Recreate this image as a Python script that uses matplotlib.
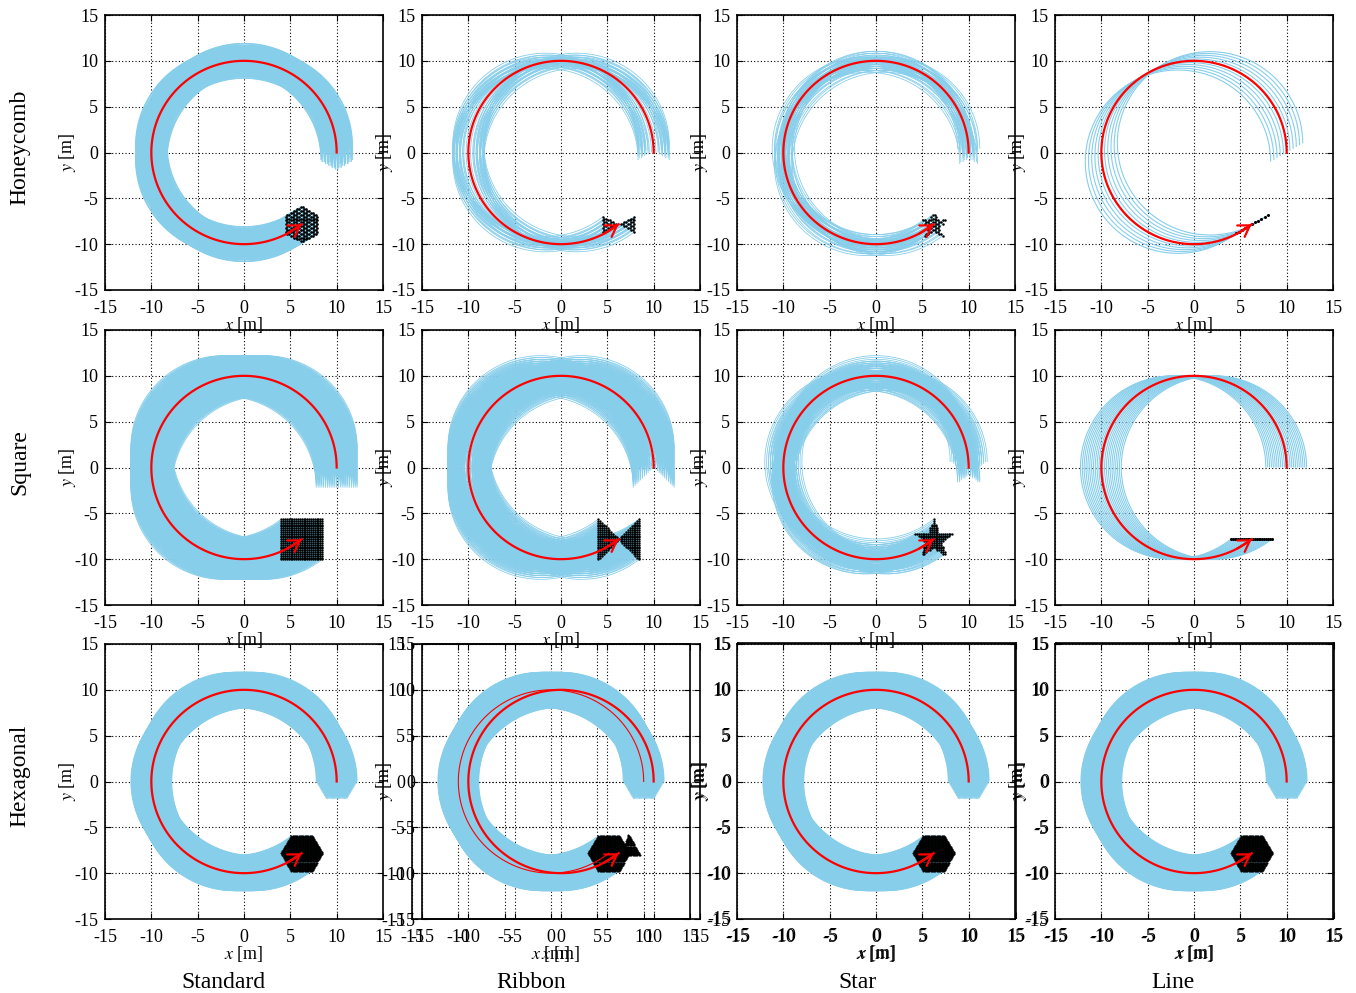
"""
Formation sweeps along a circular leader path: 3 lattice types x 4 formation shapes.
"""

import numpy as np
import matplotlib.pyplot as plt
from matplotlib.collections import LineCollection
from matplotlib.path import Path
from matplotlib.transforms import ScaledTranslation

plt.rcParams['font.family'] = ['Liberation Serif', 'DejaVu Serif']
plt.rcParams['mathtext.fontset'] = 'stix'
plt.rcParams['axes.unicode_minus'] = False

row_names = ["Honeycomb", "Square", "Hexagonal"]
col_names = ["Standard", "Ribbon", "Star", "Line"]
ticks = [-15, -10, -5, 0, 5, 10, 15]

# leader path (circle, counter clockwise)
path_radius = 10.0
path_start_deg = 0.0
path_end_deg = 308.5

# lattice used in each row and its spacing [m]
lattice_kind = ["honeycomb", "square", "triangular"]
lattice_step = [0.24, 0.2, 0.13]

# formation sizes [m]
hex_pointy_radius = 2.05
square_half = 2.3
hex_flat_radius = 2.25
ribbon_half_w = [1.8, 2.35]
ribbon_half_h = [1.15, 2.45]
star_outer = [1.8, 2.3]
star_inner = [0.72, 0.95]
line_angle_deg = [30.0, 0.0]
line_half_len = [2.0, 2.25]
line_step = [0.4, 0.2]
extra_triangle = [(7.25, -5.8), (8.6, -8.0), (6.5, -8.0)]

sky = "#87CEEB"
arrow_style = '->,head_length=0.55,head_width=0.35'


def lattice(kind, step, ext=3.0):
    n = int(ext / step) + 2
    if kind == "square":
        g = np.arange(-n, n + 1) * step
        X, Y = np.meshgrid(g, g)
        return np.column_stack([X.ravel(), Y.ravel()])
    i, j = np.meshgrid(np.arange(-2 * n, 2 * n + 1), np.arange(-2 * n, 2 * n + 1))
    i = i.ravel()
    j = j.ravel()
    if kind == "honeycomb":
        keep = (i - j) % 3 != 0
        i = i[keep]
        j = j[keep]
    x = step * (i + j / 2.0)
    y = step * j * np.sqrt(3) / 2.0
    return np.column_stack([x, y])


def polygon(r, start_deg, k):
    a = np.radians(start_deg + 360.0 / k * np.arange(k))
    return np.column_stack([r * np.cos(a), r * np.sin(a)])


def star_poly(ro, ri):
    a = np.radians(90 + 36 * np.arange(10))
    r = np.where(np.arange(10) % 2 == 0, ro, ri)
    return np.column_stack([r * np.cos(a), r * np.sin(a)])


def inside(pts, verts):
    return pts[Path(verts).contains_points(pts, radius=1e-6)]


def formation(row, col):
    pts = lattice(lattice_kind[row], lattice_step[row])
    if row == 2:
        return inside(pts, polygon(hex_flat_radius, 0, 6))
    if col == 0:
        if row == 0:
            return inside(pts, polygon(hex_pointy_radius, 90, 6))
        s = square_half
        return inside(pts, np.array([[-s, -s], [s, -s], [s, s], [-s, s]]))
    if col == 1:
        w, h = ribbon_half_w[row], ribbon_half_h[row]
        ax_ = np.abs(pts[:, 0])
        m = (ax_ <= w + 1e-6) & (np.abs(pts[:, 1]) <= h * ax_ / w + 1e-6)
        return pts[m]
    if col == 2:
        return inside(pts, star_poly(star_outer[row], star_inner[row]))
    t = np.arange(-line_half_len[row], line_half_len[row] + 1e-6, line_step[row])
    a = np.radians(line_angle_deg[row])
    return np.column_stack([t * np.cos(a), t * np.sin(a)])


def style(ax, grid=True):
    ax.set_xlim(-15, 15)
    ax.set_ylim(-15, 15)
    ax.set_xticks(ticks)
    ax.set_yticks(ticks)
    ax.tick_params(direction='in', top=True, right=True, labelsize=13,
                   length=4, width=0.8)
    ax.tick_params(axis='x', pad=7)
    ax.tick_params(axis='y', pad=5)
    for sp in ax.spines.values():
        sp.set_linewidth(1.2)
    if grid:
        ax.grid(True, color='k', linestyle=(0, (1, 2)), linewidth=0.8)
    ax.set_axisbelow(True)
    ax.set_xlabel("$x$ [m]", fontsize=13, labelpad=-1)
    ax.set_ylabel("$y$ [m]", fontsize=13, labelpad=-3)


theta = np.radians(np.linspace(path_start_deg, path_end_deg, 260))
cx = path_radius * np.cos(theta)
cy = path_radius * np.sin(theta)


def red_path(ax, lw=1.6, transform=None, arrow=True):
    tr = ax.transData if transform is None else transform
    ax.plot(cx, cy, color='red', lw=lw, zorder=4, transform=tr)
    if arrow:
        ax.annotate('', xy=(cx[-1], cy[-1]), xytext=(cx[-10], cy[-10]),
                    arrowprops=dict(arrowstyle=arrow_style, color='red', lw=1.6,
                                    shrinkA=0, shrinkB=0, mutation_scale=14),
                    zorder=5)


def draw(ax, pts, lw_blue=0.6, ms=1.8, transform=None):
    tr = ax.transData if transform is None else transform
    segs = [np.column_stack([cx + dx, cy + dy]) for dx, dy in pts]
    lc = LineCollection(segs, colors=sky, linewidths=lw_blue, zorder=2, transform=tr)
    ax.add_collection(lc)
    ax.plot(cx[-1] + pts[:, 0], cy[-1] + pts[:, 1], 'o', ms=ms, mec='none',
            color='k', zorder=3, transform=tr)


fig = plt.figure(figsize=(13.56, 9.93), dpi=100)
W, H = 1356.0, 993.0
lefts = [105, 422, 737, 1055]
tops = [15, 330, 644]
aw, ah = 278, 275


def rect(left, top):
    return [left / W, (H - top - ah) / H, aw / W, ah / H]


for r in range(3):
    z = 3 * (3 - r)
    for c in range(4):
        pts = formation(r, c)
        if r == 2 and c == 1:
            ghost = fig.add_axes(rect(lefts[c] - 10, tops[r]))
            ghost.set_zorder(z - 1)
            style(ghost)
            ax = fig.add_axes(rect(lefts[c], tops[r]))
            ax.set_zorder(z)
            ax.patch.set_alpha(0)
            style(ax)
            shift = ax.transData + ScaledTranslation(-10 / 100.0, 0, fig.dpi_scale_trans)
            draw(ax, pts, ms=1.5, transform=shift)
            red_path(ax, lw=0.8, transform=shift, arrow=False)
            tri = inside(lattice("triangular", 0.13, 10), np.array(extra_triangle))
            ax.plot(tri[:, 0], tri[:, 1], 'o', ms=1.5, mec='none', color='k', zorder=3)
            red_path(ax)
            continue
        if r == 2 and c >= 2:
            ghost = fig.add_axes(rect(lefts[c] + 1, tops[r] - 1))
            ghost.set_zorder(z - 1)
            style(ghost, grid=False)
        ax = fig.add_axes(rect(lefts[c], tops[r]))
        ax.set_zorder(z)
        style(ax)
        if c == 3 and r < 2:
            draw(ax, pts, lw_blue=0.8, ms=2.2)
        elif r == 2:
            draw(ax, pts, ms=1.5)
        elif r == 1:
            draw(ax, pts, ms=1.7)
        elif c == 0:
            draw(ax, pts, lw_blue=1.0, ms=1.9)
        else:
            draw(ax, pts, ms=1.8)
        red_path(ax)

row_y = [147, 462, 776]
for name, y in zip(row_names, row_y):
    fig.text(20 / W, 1 - y / H, name, rotation=90, ha='center', va='center', fontsize=17)
col_x = [223, 531, 857, 1173]
for name, x in zip(col_names, col_x):
    fig.text(x / W, 1 - 983 / H, name, ha='center', va='center', fontsize=17)

fig.savefig("out.png", dpi=100)
